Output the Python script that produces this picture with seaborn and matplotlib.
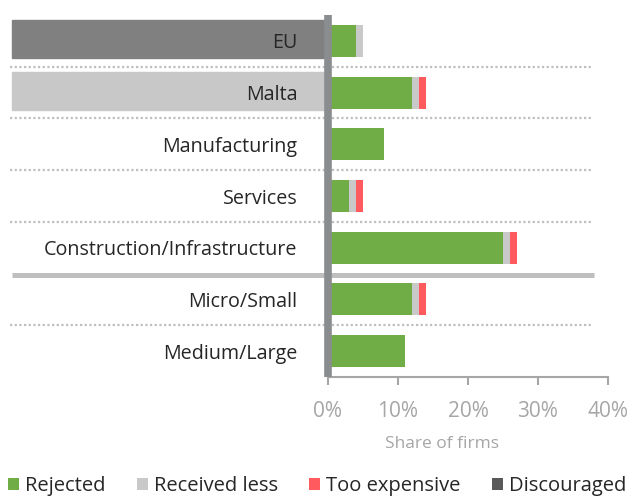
import matplotlib
matplotlib.use("Agg")
import matplotlib.pyplot as plt
import matplotlib.transforms as mtransforms
from matplotlib.patches import Rectangle, Patch
import seaborn as sns
import pandas as pd
import numpy as np

categories = ["EU", "Malta", "Manufacturing", "Services",
              "Construction/Infrastructure", "Micro/Small", "Medium/Large"]
rejected = [4, 12, 8, 3, 25, 12, 11]
received_less = [1, 1, 0, 1, 1, 1, 0]
too_expensive = [0, 1, 0, 1, 1, 1, 0]
discouraged = [0, 0, 0, 0, 0, 0, 0]
series_names = ["Rejected", "Received less", "Too expensive", "Discouraged"]
colors = ["#70AD47", "#C9C9C9", "#FF5B5F", "#595959"]
ticks = [0, 10, 20, 30, 40]
tick_labels = ["0%", "10%", "20%", "30%", "40%"]

sns.set_theme(style="white")
plt.rcParams['font.family'] = ['Open Sans', 'DejaVu Sans']

W, H = 628, 496
fig = plt.figure(figsize=(W / 100, H / 100), dpi=100)
ax = fig.add_axes([328 / W, 1 - 377 / H, 280 / W, 362 / H])

df = pd.DataFrame({"category": categories, "Rejected": rejected,
                   "Received less": received_less,
                   "Too expensive": too_expensive,
                   "Discouraged": discouraged})
cum = df[series_names].cumsum(axis=1)
# draw from the full stack down to the first series so they overlay as a stack
for name, col in reversed(list(zip(series_names, colors))):
    sns.barplot(data=cum.assign(category=categories), x=name, y="category",
                order=categories, orient="h", color=col, width=0.62,
                saturation=1, ax=ax, edgecolor="none", linewidth=0)

ax.set_xlim(0, 40)
ax.set_ylim(len(categories) - 0.5, -0.5)

# label background boxes
blend = mtransforms.blended_transform_factory(ax.transAxes, ax.transData)
x0 = (12 - 328) / 280
x1 = (324 - 328) / 280
for i, bc in [(0, "#808080"), (1, "#C8C8C8")]:
    ax.add_patch(Rectangle((x0, i - 0.37 - 0.03), x1 - x0, 0.74,
                           transform=blend, color=bc, clip_on=False, zorder=0.5))

# separators
xs0 = (10 - 328) / 280
xs1 = (592 - 328) / 280
for yv in [0.5, 1.5, 2.5, 3.5, 5.5]:
    ax.plot([xs0, xs1], [yv, yv], transform=blend, color="#BFBFBF", lw=1.6,
            linestyle=(0, (1, 1.1)), clip_on=False, zorder=0.6)
ax.plot([(12 - 328) / 280, (594 - 328) / 280], [4.52, 4.52], transform=blend,
        color="#BFBFBF", lw=3.6, solid_capstyle="butt", clip_on=False, zorder=0.6)

# thick vertical zero line
ax.axvline(0, color="#8A8C8E", lw=5.5, zorder=5, clip_on=False,
           solid_capstyle="butt")

for s in ["top", "right", "left"]:
    ax.spines[s].set_visible(False)
ax.spines["bottom"].set_color("#A6A6A6")
ax.spines["bottom"].set_linewidth(1.5)
ax.set_xticks(ticks)
ax.set_xticklabels(tick_labels)
ax.tick_params(axis="x", colors="#A6A6A6", length=6, width=1.5, direction="out",
               labelsize=15, pad=11, bottom=True)
ax.tick_params(axis="y", length=0, pad=22, labelsize=14.2, labelcolor="#262626")
ax.set_ylabel("")
ax.set_xlabel("Share of firms", color="#A6A6A6", fontsize=12.5)
ax.xaxis.label.set_position(((442 - 328) / 280, 0))
ax.xaxis.labelpad = 10

handles = [Patch(facecolor=c, edgecolor="none") for c in colors]
fig.legend(handles, series_names, loc="center left", bbox_to_anchor=(8 / W, 1 - 486 / H),
           ncol=4, frameon=False, fontsize=14.5, handlelength=0.55, handleheight=0.55,
           handletextpad=0.3, columnspacing=1.55, borderaxespad=0, borderpad=0)

fig.savefig("out.png", dpi=100)
